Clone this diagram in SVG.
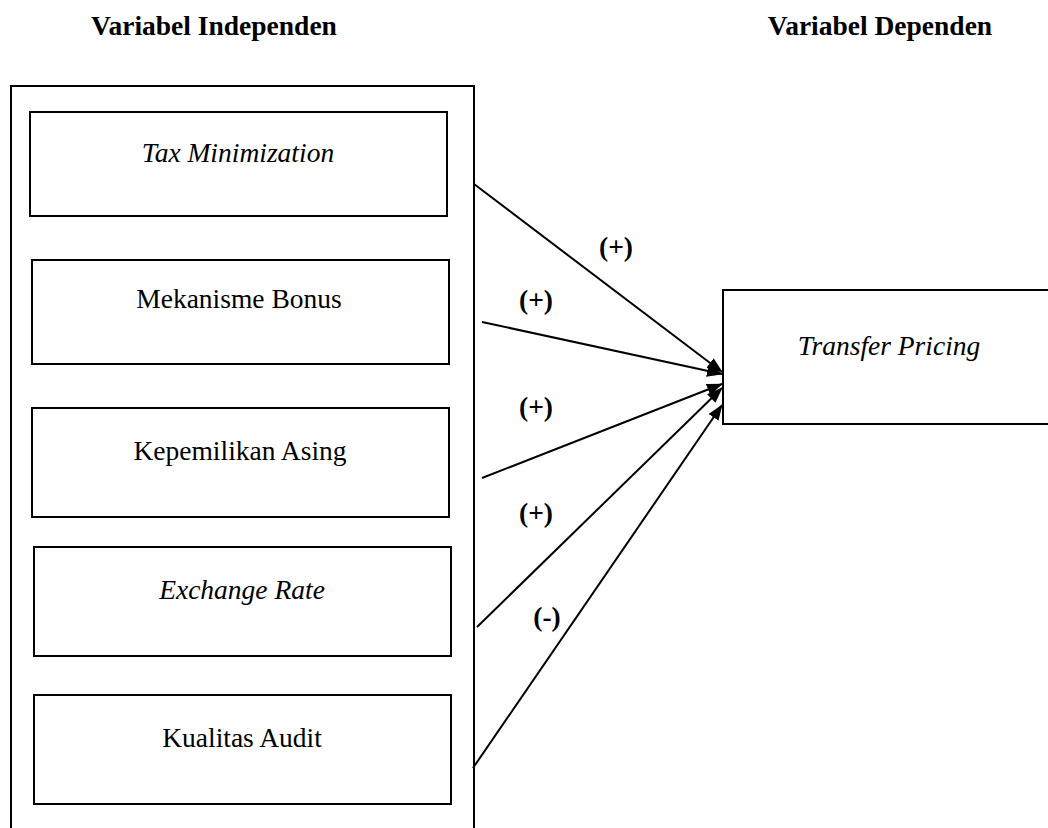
<svg xmlns="http://www.w3.org/2000/svg" width="1048" height="828" viewBox="0 0 1048 828">
  <style>
    .box { fill: #ffffff; stroke: #000000; stroke-width: 2; }
    .lbl { font-family: "Liberation Serif", "Times New Roman", serif; font-size: 27.5px; fill: #000000; text-anchor: middle; }
    .it { font-style: italic; }
    .bold { font-weight: bold; }
    .edge { stroke: #000000; stroke-width: 2; fill: none; marker-end: url(#arrow); }
  </style>
  <defs>
    <marker id="arrow" markerUnits="userSpaceOnUse" markerWidth="16" markerHeight="12" refX="15" refY="6" orient="auto">
      <path d="M0,0 L16,6 L0,12 Z" fill="#000000"/>
    </marker>
  </defs>
  <rect width="1048" height="828" fill="#ffffff"/>

  <!-- column headings -->
  <text class="lbl bold" x="214" y="35">Variabel Independen</text>
  <text class="lbl bold" x="880" y="35">Variabel Dependen</text>

  <!-- frame around the independent variables (runs off the bottom edge) -->
  <g id="independent-frame">
    <path class="box" d="M11,840 L11,86 L474,86 L474,840" fill="none"/>
  </g>

  <g id="tax-minimization">
    <rect class="box" x="30" y="112" width="417" height="104"/>
    <text class="lbl it" x="238" y="162">Tax Minimization</text>
  </g>
  <g id="mekanisme-bonus">
    <rect class="box" x="32" y="260" width="417" height="104"/>
    <text class="lbl" x="239" y="308">Mekanisme Bonus</text>
  </g>
  <g id="kepemilikan-asing">
    <rect class="box" x="32" y="408" width="417" height="109"/>
    <text class="lbl" x="240" y="460">Kepemilikan Asing</text>
  </g>
  <g id="exchange-rate">
    <rect class="box" x="34" y="547" width="417" height="109"/>
    <text class="lbl it" x="242" y="599">Exchange Rate</text>
  </g>
  <g id="kualitas-audit">
    <rect class="box" x="34" y="695" width="417" height="109"/>
    <text class="lbl" x="242" y="747">Kualitas Audit</text>
  </g>

  <!-- dependent variable (runs off the right edge) -->
  <g id="transfer-pricing">
    <rect class="box" x="723" y="290" width="340" height="134"/>
    <text class="lbl it" x="889" y="355">Transfer Pricing</text>
  </g>

  <!-- connectors -->
  <g id="connectors">
    <line class="edge" x1="474" y1="184" x2="722" y2="372"/>
    <line class="edge" x1="482" y1="322" x2="722" y2="374"/>
    <line class="edge" x1="482" y1="478" x2="722" y2="384"/>
    <line class="edge" x1="477" y1="627" x2="722" y2="388"/>
    <line class="edge" x1="473" y1="768" x2="722" y2="405"/>
    <text class="lbl bold" x="616" y="256">(+)</text>
    <text class="lbl bold" x="536" y="309">(+)</text>
    <text class="lbl bold" x="536" y="416">(+)</text>
    <text class="lbl bold" x="536" y="522">(+)</text>
    <text class="lbl bold" x="547" y="626">(-)</text>
  </g>
</svg>
